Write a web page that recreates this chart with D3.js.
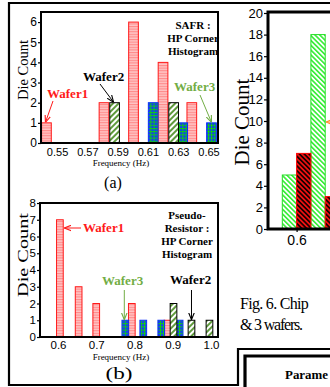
<!DOCTYPE html>
<html>
<head>
<meta charset="utf-8">
<script src="https://cdn.jsdelivr.net/npm/d3@7"></script>
<style>
	body { margin: 0; background: #fff; }
	svg { display: block; font-family: "Liberation Serif", "DejaVu Serif", serif; }
</style>
</head>
<body>
<script>
// (a) SAFR : HP corner histogram  -> [frequency, die count]
const safrFreqTicks = [0.55, 0.57, 0.59, 0.61, 0.63, 0.65];
const safrCountTicks = [0, 1, 2, 3, 4, 5, 6];
const safrWafer1 = [[0.543, 1], [0.581, 2], [0.6005, 6], [0.620, 4], [0.639, 2]];
const safrWafer2 = [[0.588, 2], [0.627, 2]];
const safrWafer3 = [[0.6135, 2], [0.633, 1], [0.652, 1]];

// (b) pseudo-resistor : HP corner histogram
const prFreqTicks = [0.6, 0.7, 0.8, 0.9, 1.0];
const prCountTicks = [0, 1, 2, 3, 4, 5, 6, 7, 8];
const prWafer1 = [[0.605, 7], [0.654, 3], [0.700, 2], [0.793, 2], [0.886, 1]];
const prWafer2 = [[0.902, 2], [0.949, 1], [0.996, 1]];
const prWafer3 = [[0.776, 1], [0.823, 1], [0.870, 1], [0.918, 1]];

// right panel (cut off by the crop)
const rightFreqTicks = [0.6];
const rightCountTicks = [0, 2, 4, 6, 8, 10, 12, 14, 16, 18, 20];
const rightGreen = [[0.5975, 5], [0.6075, 18]];
const rightRed = [[0.6025, 7], [0.6125, 3]];

const red = "#ff1a1a";
const green = "#72ad45";

const svg = d3.select("body").append("svg")
	.attr("width", 330)
	.attr("height", 387);

const defs = svg.append("defs");

function addStripes(id, bg, fg, angle, size, band) {
	const p = defs.append("pattern")
		.attr("id", id)
		.attr("patternUnits", "userSpaceOnUse")
		.attr("width", size)
		.attr("height", size)
		.attr("patternTransform", `rotate(${angle})`);
	p.append("rect").attr("width", size).attr("height", size).attr("fill", bg);
	p.append("rect").attr("width", band).attr("height", size).attr("fill", fg);
};

addStripes("w1", "#ffc4c4", "#ff8a8a", 90, 2.6, 1.1);
addStripes("w2", "#ffffff", "#5f9a3c", 45, 4, 2);
addStripes("gr", "#ffffff", "#33ee33", -45, 3.4, 1.6);
addStripes("rd", "#ee1111", "#1a0000", -45, 3.4, 1.7);

const grid = defs.append("pattern")
	.attr("id", "w3")
	.attr("patternUnits", "userSpaceOnUse")
	.attr("width", 3.2)
	.attr("height", 3.2);
grid.append("rect").attr("width", 3.2).attr("height", 3.2).attr("fill", "#1434ff");
grid.append("path").attr("d", "M0,0.5H3.2M0.5,0V3.2").attr("stroke", "#10d010").attr("stroke-width", 1);

[["aRed", red], ["aBlack", "#000"], ["aGreen", green], ["aOrange", "#ff8a2a"]].forEach(([id, c]) => {
	defs.append("marker")
		.attr("id", id)
		.attr("viewBox", "0 -5 10 10")
		.attr("refX", 10)
		.attr("refY", 0)
		.attr("markerWidth", 7)
		.attr("markerHeight", 7)
		.attr("markerUnits", "userSpaceOnUse")
		.attr("orient", "auto")
		.append("path")
		.attr("d", "M0,-4L10,0L0,4")
		.attr("fill", "none")
		.attr("stroke", c)
		.attr("stroke-width", 1.6);
});

function arrow(x1, y1, x2, y2, color, id) {
	svg.append("line")
		.attr("x1", x1).attr("y1", y1)
		.attr("x2", x2).attr("y2", y2)
		.attr("stroke", color)
		.attr("stroke-width", 1)
		.attr("marker-end", `url(#${id})`);
};

function label(x, y, str, size, opts = {}) {
	const t = svg.append("text")
		.attr("x", x)
		.attr("y", y)
		.attr("font-size", size)
		.attr("fill", opts.color || "#000")
		.attr("font-weight", opts.bold ? "bold" : "normal")
		.attr("text-anchor", opts.anchor || "start")
		.text(str);
	if (opts.rotate) t.attr("transform", `rotate(-90,${x},${y})`);
	if (opts.len) t.attr("textLength", opts.len).attr("lengthAdjust", "spacingAndGlyphs");
	return t;
};

function drawBars(x, y, data, width, fill, stroke) {
	svg.append("g")
		.selectAll(null)
		.data(data)
		.enter()
		.append("rect")
		.attr("x", d => x(d[0] - width / 2))
		.attr("y", d => y(d[1]))
		.attr("width", x(width) - x(0))
		.attr("height", d => y(0) - y(d[1]))
		.attr("fill", fill)
		.attr("stroke", stroke)
		.attr("stroke-width", 1);
};

function drawAxes(x, y, xTicks, yTicks, xFmt, opt) {
	const yAxis = svg.append("g")
		.attr("transform", `translate(${x.range()[0]},0)`)
		.call(d3.axisLeft(y).tickValues(yTicks).tickSize(opt.yTick).tickPadding(1).tickFormat(d3.format("d")));
	yAxis.select(".domain").remove();
	yAxis.selectAll("text").attr("font-size", opt.yFont).attr("font-family", null).attr("fill", "#000");

	const xAxis = svg.append("g")
		.attr("transform", `translate(0,${y(0)})`)
		.call(d3.axisBottom(x).tickValues(xTicks).tickSize(opt.xTick).tickPadding(opt.xPad).tickFormat(xFmt));
	xAxis.select(".domain").remove();
	xAxis.selectAll("text").attr("font-size", opt.xFont).attr("font-family", null).attr("fill", "#000");
	svg.selectAll(".tick line").attr("stroke-width", 1.2);
};

// outer frame and table corner
svg.append("path")
	.attr("d", "M330,3H9V385H238V349H330")
	.attr("fill", "none")
	.attr("stroke", "#000")
	.attr("stroke-width", 2.2);
svg.append("path")
	.attr("d", "M245,387V356H330")
	.attr("fill", "none")
	.attr("stroke", "#000")
	.attr("stroke-width", 3.2);
label(285, 379, "Parame", 12, { bold: true, len: 43 });

// ---------- (a)
const xA = d3.scaleLinear().domain([0.5394, 0.6563]).range([41, 218]);
const yA = d3.scaleLinear().domain([0, 6.5]).range([143, 12]);
const bwA = 0.0064;

drawBars(xA, yA, safrWafer1, bwA, "url(#w1)", red);
drawBars(xA, yA, safrWafer3, bwA, "url(#w3)", "#0a2cff");
drawBars(xA, yA, safrWafer2, bwA, "url(#w2)", "#000");
drawAxes(xA, yA, safrFreqTicks, safrCountTicks, d3.format(".2f"), { yTick: 3, yFont: 12, xTick: 0, xPad: 5, xFont: 11 });

svg.append("rect")
	.attr("x", 41).attr("y", 12).attr("width", 177).attr("height", 131)
	.attr("fill", "none").attr("stroke", "#000").attr("stroke-width", 2);

label(28, 70, "Die Count", 14, { rotate: true, anchor: "middle", len: 60 });
label(121, 166, "Frequency (Hz)", 9, { anchor: "middle" });
label(113, 188, "(a)", 16, { anchor: "middle" });

label(47, 98, "Wafer1", 13, { bold: true, color: red });
arrow(53, 101, xA(safrWafer1[0][0]) - 1, yA(safrWafer1[0][1]) - 0.5, red, "aRed");
label(83, 81, "Wafer2", 13, { bold: true });
arrow(100, 84, xA(safrWafer2[0][0]) - 1, yA(safrWafer2[0][1]) - 0.5, "#000", "aBlack");
label(174, 91, "Wafer3", 13, { bold: true, color: green });
arrow(200, 95, xA(safrWafer3[2][0]), yA(safrWafer3[2][1]) - 0.5, green, "aGreen");

label(193, 29, "SAFR :", 11, { bold: true, anchor: "middle" });
label(193, 42, "HP Corner", 11, { bold: true, anchor: "middle" });
label(193, 55, "Histogram", 11, { bold: true, anchor: "middle" });

// ---------- (b)
const xB = d3.scaleLinear().domain([0.553, 1.0183]).range([40, 218]);
const yB = d3.scaleLinear().domain([0, 8]).range([337, 203]);
const bwB = 0.0175;

drawBars(xB, yB, prWafer1, bwB, "url(#w1)", red);
drawBars(xB, yB, prWafer3, bwB, "url(#w3)", "#0a2cff");
drawBars(xB, yB, prWafer2, bwB, "url(#w2)", "#000");
drawAxes(xB, yB, prFreqTicks, prCountTicks, d3.format(".1f"), { yTick: 3, yFont: 11.5, xTick: 0, xPad: 4, xFont: 11.5 });

svg.append("rect")
	.attr("x", 40).attr("y", 203).attr("width", 178).attr("height", 134)
	.attr("fill", "none").attr("stroke", "#000").attr("stroke-width", 2);

label(28, 255, "Die Count", 14, { rotate: true, anchor: "middle", len: 84 });
label(121, 360, "Frequency (Hz)", 9, { anchor: "middle" });
label(119, 379, "(b)", 17, { anchor: "middle", len: 27 });

label(83, 232, "Wafer1", 13, { bold: true, color: red });
arrow(81, 228, xB(prWafer1[0][0] + bwB / 2) + 1, 228, red, "aRed");
label(102, 285, "Wafer3", 13, { bold: true, color: green });
arrow(xB(prWafer3[0][0]) - 1, 290, xB(prWafer3[0][0]) - 1, yB(prWafer3[0][1]) - 0.5, green, "aGreen");
label(170, 284, "Wafer2", 13, { bold: true });
arrow(xB(prWafer2[1][0]), 290, xB(prWafer2[1][0]), yB(prWafer2[1][1]) - 0.5, "#000", "aBlack");

label(187, 219, "Pseudo-", 11, { bold: true, anchor: "middle" });
label(187, 232, "Resistor :", 11, { bold: true, anchor: "middle" });
label(187, 245, "HP Corner", 11, { bold: true, anchor: "middle" });
label(187, 258, "Histogram", 11, { bold: true, anchor: "middle" });

// ---------- right panel
const xR = d3.scaleLinear().domain([0.59, 0.61]).range([268, 325.2]);
const yR = d3.scaleLinear().domain([0, 20]).range([229, 13]);
const bwR = 0.005;

drawBars(xR, yR, rightGreen, bwR, "url(#gr)", "#22dd22");
drawBars(xR, yR, rightRed, bwR, "url(#rd)", "#ff0000");
drawAxes(xR, yR, rightFreqTicks, rightCountTicks, d3.format(".1f"), { yTick: 4, yFont: 13, xTick: 3, xPad: 3, xFont: 14 });

svg.append("path")
	.attr("d", "M330,12H268V229H330")
	.attr("fill", "none")
	.attr("stroke", "#000")
	.attr("stroke-width", 3);

arrow(345, 122, 326, 122, "#ff8a2a", "aOrange");
label(249, 122, "Die Count", 21, { rotate: true, anchor: "middle" });

label(240, 309, "Fig. 6. Chip", 16, {}).attr("letter-spacing", -0.7);
label(240, 330, "& 3 wafers.", 16, {}).attr("letter-spacing", -1.2);
</script>
</body>
</html>
